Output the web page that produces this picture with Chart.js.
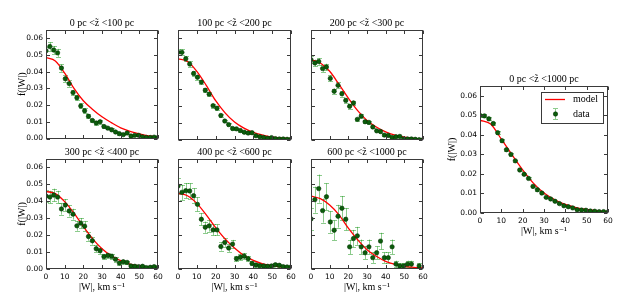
<!DOCTYPE html>
<html><head><meta charset="utf-8">
<script src="https://cdn.jsdelivr.net/npm/chart.js@4.4.0/dist/chart.umd.min.js"></script>
<style>
html,body{margin:0;padding:0;background:#fff;}
body{width:640px;height:300px;position:relative;overflow:hidden;}
.p{position:absolute;}
.p canvas{display:block;}
</style></head><body>
<script>
// |W| bin positions (km/s)
const wValues = [0,2.07,4.14,6.21,8.28,10.34,12.41,14.48,16.55,18.62,20.69,22.76,24.83,26.9,28.97,31.03,33.1,35.17,37.24,39.31,41.38,43.45,45.52,47.59,49.66,51.72,53.79,55.86,57.93,60];
const modelW = [0,5,10,15,20,25,30,35,40,45,50,55,60];
const xTicks = [0,10,20,30,40,50,60];

const titles = ['0 pc <z̃ <100 pc','100 pc <z̃ <200 pc','200 pc <z̃ <300 pc','300 pc <z̃ <400 pc','400 pc <z̃ <600 pc','600 pc <z̃ <1000 pc','0 pc <z̃ <1000 pc'];

const data1 = [0.0526,0.0551,0.0530,0.0513,0.0422,0.0358,0.0329,0.0275,0.0244,0.0195,0.0166,0.0133,0.0108,0.0093,0.0100,0.0072,0.0062,0.0052,0.0039,0.0029,0.0023,0.0033,0.0015,0.0019,0.0019,0.0010,0.0006,0.0006,0.0008,0.0006];
const err1 = [0.0024,0.0025,0.0024,0.0024,0.0022,0.0020,0.0019,0.0017,0.0016,0.0015,0.0014,0.0012,0.0011,0.0010,0.0011,0.0009,0.0008,0.0008,0.0007,0.0006,0.0005,0.0006,0.0004,0.0005,0.0005,0.0003,0.0003,0.0003,0.0003,0.0003];
const model1 = [0.0485,0.0465,0.0392,0.0300,0.0226,0.0174,0.0130,0.0095,0.0064,0.0043,0.0027,0.0015,0.0010];

const data2 = [0.0518,0.0518,0.0480,0.0449,0.0393,0.0371,0.0342,0.0294,0.0271,0.0203,0.0188,0.0145,0.0112,0.0091,0.0068,0.0066,0.0056,0.0046,0.0041,0.0043,0.0025,0.0019,0.0015,0.0010,0.0014,0.0008,0.0006,0.0006,0.0004,0.0004];
const err2 = [0.0017,0.0017,0.0016,0.0016,0.0015,0.0014,0.0014,0.0013,0.0012,0.0011,0.0010,0.0009,0.0008,0.0007,0.0006,0.0006,0.0006,0.0005,0.0005,0.0005,0.0004,0.0003,0.0003,0.0002,0.0003,0.0002,0.0002,0.0002,0.0002,0.0002];
const model2 = [0.0480,0.0464,0.0406,0.0323,0.0232,0.0160,0.0106,0.0070,0.0045,0.0029,0.0017,0.0012,0.0008];

const data3 = [0.0474,0.0455,0.0464,0.0422,0.0431,0.0364,0.0288,0.0323,0.0273,0.0234,0.0199,0.0219,0.0122,0.0141,0.0108,0.0104,0.0077,0.0054,0.0050,0.0029,0.0027,0.0015,0.0019,0.0021,0.0006,0.0006,0.0006,0.0004,0.0002,0.0002];
const err3 = [0.0021,0.0020,0.0020,0.0020,0.0020,0.0018,0.0016,0.0017,0.0016,0.0015,0.0013,0.0014,0.0010,0.0011,0.0010,0.0010,0.0008,0.0007,0.0007,0.0005,0.0005,0.0004,0.0004,0.0004,0.0002,0.0002,0.0002,0.0002,0.0001,0.0001];
const model3 = [0.0474,0.0455,0.0406,0.0329,0.0248,0.0174,0.0116,0.0077,0.0048,0.0029,0.0017,0.0010,0.0006];

const data4 = [0.0431,0.0425,0.0437,0.0425,0.0355,0.0378,0.0343,0.0324,0.0255,0.0271,0.0253,0.0192,0.0167,0.0120,0.0108,0.0073,0.0080,0.0075,0.0057,0.0035,0.0043,0.0039,0.0018,0.0016,0.0014,0.0016,0.0008,0.0010,0.0014,0.0008];
const err4 = [0.0037,0.0037,0.0038,0.0037,0.0034,0.0035,0.0033,0.0032,0.0029,0.0030,0.0029,0.0025,0.0023,0.0020,0.0019,0.0015,0.0016,0.0016,0.0014,0.0011,0.0012,0.0011,0.0008,0.0007,0.0007,0.0007,0.0005,0.0006,0.0007,0.0005];
const model4 = [0.0458,0.0445,0.0398,0.0330,0.0251,0.0178,0.0120,0.0078,0.0049,0.0029,0.0018,0.0010,0.0006];

const data5 = [0.0490,0.0453,0.0463,0.0461,0.0433,0.0382,0.0294,0.0247,0.0255,0.0231,0.0231,0.0133,0.0157,0.0124,0.0147,0.0061,0.0069,0.0076,0.0061,0.0033,0.0024,0.0020,0.0018,0.0016,0.0018,0.0025,0.0022,0.0014,0.0012,0.0012];
const err5 = [0.0046,0.0045,0.0045,0.0045,0.0044,0.0041,0.0036,0.0033,0.0034,0.0032,0.0032,0.0024,0.0026,0.0023,0.0025,0.0016,0.0017,0.0018,0.0016,0.0012,0.0010,0.0009,0.0009,0.0008,0.0009,0.0010,0.0010,0.0008,0.0007,0.0007];
const model5 = [0.0447,0.0433,0.0388,0.0320,0.0245,0.0178,0.0124,0.0080,0.0051,0.0031,0.0020,0.0012,0.0006];

const data6 = [0.0296,0.0410,0.0475,0.0345,0.0427,0.0278,0.0229,0.0312,0.0359,0.0294,0.0131,0.0180,0.0196,0.0131,0.0096,0.0131,0.0067,0.0096,0.0165,0.0067,0.0067,0.0131,0.0029,0.0018,0.0018,0.0029,0.0029,null,0.0018,null];
const err6 = [0.0065,0.0077,0.0083,0.0071,0.0079,0.0063,0.0058,0.0067,0.0072,0.0065,0.0043,0.0051,0.0053,0.0043,0.0037,0.0043,0.0031,0.0037,0.0049,0.0031,0.0031,0.0043,0.0020,0.0016,0.0016,0.0020,0.0020,0,0.0016,0];
const model6 = [0.0431,0.0416,0.0378,0.0320,0.0241,0.0173,0.0114,0.0075,0.0045,0.0027,0.0016,0.0010,0.0006];

const data7 = [0.0499,0.0497,0.0482,0.0458,0.0411,0.0370,0.0324,0.0300,0.0267,0.0220,0.0198,0.0177,0.0136,0.0119,0.0102,0.0080,0.0072,0.0060,0.0048,0.0037,0.0032,0.0026,0.0017,0.0015,0.0014,0.0010,0.0009,0.0007,0.0007,0.0005];
const err7 = [0.0008,0.0008,0.0008,0.0007,0.0007,0.0007,0.0006,0.0006,0.0006,0.0005,0.0005,0.0005,0.0004,0.0004,0.0004,0.0003,0.0003,0.0003,0.0002,0.0002,0.0002,0.0002,0.0001,0.0001,0.0001,0.0001,0.0001,0.0001,0.0001,0.0001];
const model7 = [0.0475,0.0455,0.0378,0.0298,0.0221,0.0153,0.0102,0.0068,0.0044,0.0028,0.0018,0.0011,0.0007];

const SANS = '"DejaVu Sans", sans-serif';
const SERIF = '"Liberation Serif", "DejaVu Serif", serif';
const DOT = '#0b5d0b', DOTEDGE = '#023302', ERR = 'rgba(0,140,0,0.45)';

const panels = [
  {t:titles[0], y:data1, e:err1, m:model1, a:{l:46,t:30,r:158,b:140}, sx:false, sy:true},
  {t:titles[1], y:data2, e:err2, m:model2, a:{l:178,t:30,r:291,b:140}, sx:false, sy:false},
  {t:titles[2], y:data3, e:err3, m:model3, a:{l:311,t:30,r:423,b:140}, sx:false, sy:false},
  {t:titles[3], y:data4, e:err4, m:model4, a:{l:46,t:159,r:158,b:269}, sx:true, sy:true},
  {t:titles[4], y:data5, e:err5, m:model5, a:{l:178,t:159,r:291,b:269}, sx:true, sy:false},
  {t:titles[5], y:data6, e:err6, m:model6, a:{l:311,t:159,r:423,b:269}, sx:true, sy:false},
  {t:titles[6], y:data7, e:err7, m:model7, a:{l:480,t:86,r:608,b:213}, sx:true, sy:true, legend:true, yw:40, ytp:6, xtp:3.3}
];

const errorBars = {
  id:'errorBars',
  beforeDatasetsDraw(chart){
    const ds = chart.data.datasets[0];
    const xs = chart.scales.x, ys = chart.scales.y, a = chart.chartArea, ctx = chart.ctx;
    ctx.save();
    ctx.beginPath(); ctx.rect(a.left, a.top, a.right-a.left, a.bottom-a.top); ctx.clip();
    ctx.strokeStyle = ERR; ctx.lineWidth = 1;
    ds.data.forEach((p,i)=>{
      if (p.y == null) return;
      const e = ds.errors[i];
      const px = Math.round(xs.getPixelForValue(p.x)) + 0.5;
      const y0 = ys.getPixelForValue(p.y - e), y1 = ys.getPixelForValue(p.y + e);
      ctx.beginPath();
      ctx.moveTo(px, y0); ctx.lineTo(px, y1);
      ctx.moveTo(px-2.5, Math.round(y0)+0.5); ctx.lineTo(px+2.5, Math.round(y0)+0.5);
      ctx.moveTo(px-2.5, Math.round(y1)+0.5); ctx.lineTo(px+2.5, Math.round(y1)+0.5);
      ctx.stroke();
    });
    ctx.restore();
  }
};

const frame = {
  id:'frame',
  afterDraw(chart){
    const a = chart.chartArea, ctx = chart.ctx, xs = chart.scales.x, ys = chart.scales.y;
    ctx.save();
    ctx.strokeStyle = '#3a3a3a'; ctx.lineWidth = 1;
    const L = Math.round(a.left)+0.5, R = Math.round(a.right)-0.5, T = Math.round(a.top)+0.5, B = Math.round(a.bottom)-0.5;
    ctx.strokeRect(L, T, R-L, B-T);
    ctx.beginPath();
    const tl = 3.5;
    xs.ticks.forEach(t=>{
      const px = Math.round(xs.getPixelForValue(t.value))+0.5;
      ctx.moveTo(px, B); ctx.lineTo(px, B-tl);
      ctx.moveTo(px, T); ctx.lineTo(px, T+tl);
    });
    ys.ticks.forEach(t=>{
      const py = Math.round(ys.getPixelForValue(t.value))+0.5;
      ctx.moveTo(L, py); ctx.lineTo(L+tl, py);
      ctx.moveTo(R, py); ctx.lineTo(R-tl, py);
    });
    ctx.stroke();
    // panel title, centred over the plotting area
    const txt = chart.options.plugins.panelTitle.text;
    ctx.fillStyle = '#000'; ctx.font = '10px ' + SERIF; ctx.textAlign = 'center'; ctx.textBaseline = 'middle';
    ctx.fillText(txt, (a.left + a.right)/2, a.top - 6.5);
    ctx.restore();
  }
};

const miniLegend = {
  id:'miniLegend',
  afterDraw(chart){
    if (!chart.options.plugins.miniLegend || !chart.options.plugins.miniLegend.show) return;
    const a = chart.chartArea, ctx = chart.ctx;
    const bx = Math.round(a.right - 67), by = Math.round(a.top + 6), bw = 62, bh = 31;
    ctx.save();
    ctx.fillStyle = '#fff'; ctx.fillRect(bx, by, bw, bh);
    ctx.strokeStyle = '#3a3a3a'; ctx.lineWidth = 1; ctx.strokeRect(bx+0.5, by+0.5, bw, bh);
    ctx.strokeStyle = '#ff0000'; ctx.lineWidth = 1.3;
    ctx.beginPath(); ctx.moveTo(bx+4, by+7.5); ctx.lineTo(bx+24, by+7.5); ctx.stroke();
    ctx.strokeStyle = ERR; ctx.lineWidth = 1;
    const mx = bx+14.5, my = by+22;
    ctx.beginPath();
    ctx.moveTo(mx, my-5); ctx.lineTo(mx, my+5);
    ctx.moveTo(mx-2.5, my-5.5); ctx.lineTo(mx+2.5, my-5.5);
    ctx.moveTo(mx-2.5, my+5.5); ctx.lineTo(mx+2.5, my+5.5);
    ctx.stroke();
    ctx.fillStyle = DOT; ctx.strokeStyle = DOTEDGE; ctx.lineWidth = 0.6;
    ctx.beginPath(); ctx.arc(mx, my, 2.2, 0, Math.PI*2); ctx.fill(); ctx.stroke();
    ctx.fillStyle = '#000'; ctx.font = '10px ' + SERIF; ctx.textBaseline = 'middle'; ctx.textAlign = 'left';
    ctx.fillText('model', bx+32, by+7.5);
    ctx.fillText('data', bx+32, by+22);
    ctx.restore();
  }
};

panels.forEach(p=>{
  const YW = p.sy ? (p.yw || 46) : 10;
  const TH = 18, XH = p.sx ? 28 : 6, RP = 10;
  const w = (p.a.r - p.a.l) + YW + RP, h = (p.a.b - p.a.t) + TH + XH;
  const div = document.createElement('div');
  div.className = 'p';
  div.style.left = (p.a.l - YW) + 'px'; div.style.top = (p.a.t - TH) + 'px';
  div.style.width = w + 'px'; div.style.height = h + 'px';
  const cv = document.createElement('canvas');
  cv.width = w; cv.height = h; cv.style.width = w+'px'; cv.style.height = h+'px';
  div.appendChild(cv); document.body.appendChild(div);
  const yTitlePad = p.ytp !== undefined ? p.ytp : 16.5;
  const xTitlePad = p.xtp !== undefined ? p.xtp : 3.5;
  new Chart(cv, {
    type:'scatter',
    data:{datasets:[
      {label:'data', data:wValues.map((x,i)=>({x:x, y:p.y[i]})), errors:p.e,
       pointRadius:2.2, pointBackgroundColor:DOT, pointBorderColor:DOTEDGE, pointBorderWidth:0.6, showLine:false},
      {label:'model', type:'line', data:modelW.map((x,i)=>({x:x, y:p.m[i]})), borderColor:'#ff0000', borderWidth:1.3,
       pointRadius:0, fill:false, cubicInterpolationMode:'monotone', showLine:true}
    ]},
    options:{
      responsive:false, animation:false, devicePixelRatio:1, events:[],
      layout:{padding:{left:0, right:RP, top:TH, bottom:0}},
      plugins:{
        legend:{display:false}, tooltip:{enabled:false}, title:{display:false},
        panelTitle:{text:p.t},
        miniLegend:{show:!!p.legend}
      },
      scales:{
        x:{type:'linear', position:'bottom', min:0, max:60,
           grid:{display:false, drawTicks:false}, border:{display:false},
           ticks:{display:p.sx, stepSize:10, autoSkip:false, maxRotation:0, color:'#000', padding:3.5, font:{family:SANS, size:7.5}},
           afterBuildTicks(s){ s.ticks = xTicks.map(v=>({value:v})); },
           title:{display:p.sx, text:'|W|, km s\u207B\u00B9', color:'#000', font:{family:SERIF, size:10, lineHeight:1.2}, padding:{top:0, bottom:xTitlePad}},
           afterFit(s){ s.height = XH; }
        },
        y:{type:'linear', position:'left', min:0, max:0.065,
           grid:{display:false, drawTicks:false}, border:{display:false},
           ticks:{display:p.sy, stepSize:0.01, color:'#000', padding:3, font:{family:SANS, size:7.5}, callback:v=>Number(v).toFixed(2)},
           afterBuildTicks(s){ s.ticks = s.ticks.filter(t=>Math.abs(t.value*100 - Math.round(t.value*100)) < 1e-6); },
           title:{display:p.sy, text:'f(|W|)', color:'#000', font:{family:SERIF, size:10, lineHeight:1.2}, padding:{top:yTitlePad, bottom:0}},
           afterFit(s){ s.width = YW; }
        }
      }
    },
    plugins:[errorBars, frame, miniLegend]
  });
});
</script>
</body></html>
